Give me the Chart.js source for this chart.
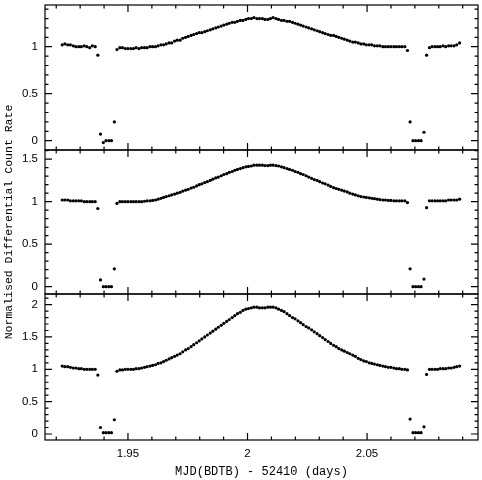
<!doctype html>
<html lang="en">
<head>
<meta charset="utf-8" />
<title>Normalised Differential Count Rate</title>
<script src="https://cdn.jsdelivr.net/npm/chart.js"></script>
<style>
  html, body { margin: 0; padding: 0; background: #fff; }
  .wrap { position: relative; width: 482px; height: 480px; }
  .wrap canvas { position: absolute; left: 0; top: 0; }
</style>
</head>
<body>
<div class="wrap">
  <canvas id="p1" width="482" height="480"></canvas>
  <canvas id="p2" width="482" height="480"></canvas>
  <canvas id="p3" width="482" height="480"></canvas>
</div>
<script>
// time axis, days after MJD 52410
const MJD = [
  1.9225, 1.9236, 1.9248, 1.9259, 1.9271, 1.9282, 1.9294, 1.9305, 1.9317, 1.9328,
  1.9340, 1.9351, 1.9363, 1.9374, 1.9385, 1.9397, 1.9408, 1.9420, 1.9431, 1.9443,
  1.9454, 1.9466, 1.9477, 1.9489, 1.9500, 1.9512, 1.9523, 1.9534, 1.9546, 1.9557,
  1.9569, 1.9580, 1.9592, 1.9603, 1.9615, 1.9626, 1.9638, 1.9649, 1.9660, 1.9672,
  1.9683, 1.9695, 1.9706, 1.9718, 1.9729, 1.9741, 1.9752, 1.9764, 1.9775, 1.9787,
  1.9798, 1.9809, 1.9821, 1.9832, 1.9844, 1.9855, 1.9867, 1.9878, 1.9890, 1.9901,
  1.9913, 1.9924, 1.9936, 1.9947, 1.9958, 1.9970, 1.9981, 1.9993, 2.0004, 2.0016,
  2.0027, 2.0039, 2.0050, 2.0062, 2.0073, 2.0085, 2.0096, 2.0107, 2.0119, 2.0130,
  2.0142, 2.0153, 2.0165, 2.0176, 2.0188, 2.0199, 2.0211, 2.0222, 2.0233, 2.0245,
  2.0256, 2.0268, 2.0279, 2.0291, 2.0302, 2.0314, 2.0325, 2.0337, 2.0348, 2.0360,
  2.0371, 2.0382, 2.0394, 2.0405, 2.0417, 2.0428, 2.0440, 2.0451, 2.0463, 2.0474,
  2.0486, 2.0497, 2.0509, 2.0520, 2.0531, 2.0543, 2.0554, 2.0566, 2.0577, 2.0589,
  2.0600, 2.0612, 2.0623, 2.0635, 2.0646, 2.0658, 2.0669, 2.0680, 2.0692, 2.0703,
  2.0715, 2.0726, 2.0738, 2.0749, 2.0761, 2.0772, 2.0784, 2.0795, 2.0806, 2.0818,
  2.0829, 2.0841, 2.0852, 2.0864, 2.0875, 2.0887
];

const RATE_TOP = [
  1.02, 1.03, 1.02, 1.02, 1.01, 1.00, 1.00, 1.00, 1.01, 1.00,
  0.99, 1.01, 1.00, 0.91, 0.07, -0.02, 0.00, 0.00, 0.00, 0.20,
  0.97, 0.99, 0.99, 0.98, 0.98, 0.98, 0.98, 0.99, 0.98, 0.99,
  0.99, 0.99, 1.00, 1.00, 1.00, 1.01, 1.02, 1.02, 1.03, 1.04,
  1.04, 1.06, 1.07, 1.07, 1.09, 1.10, 1.11, 1.12, 1.13, 1.14,
  1.15, 1.15, 1.16, 1.17, 1.18, 1.19, 1.20, 1.21, 1.22, 1.23,
  1.24, 1.25, 1.26, 1.26, 1.27, 1.28, 1.28, 1.29, 1.30, 1.30,
  1.31, 1.30, 1.30, 1.30, 1.29, 1.29, 1.30, 1.31, 1.30, 1.29,
  1.28, 1.28, 1.27, 1.27, 1.26, 1.25, 1.24, 1.23, 1.22, 1.21,
  1.20, 1.19, 1.18, 1.17, 1.16, 1.15, 1.14, 1.13, 1.12, 1.12,
  1.11, 1.10, 1.09, 1.08, 1.07, 1.06, 1.05, 1.05, 1.04, 1.03,
  1.03, 1.02, 1.02, 1.02, 1.01, 1.01, 1.01, 1.00, 1.00, 1.00,
  1.00, 1.00, 1.00, 1.00, 1.00, 1.00, 0.96, 0.20, 0.00, 0.00,
  0.00, 0.00, 0.09, 0.91, 0.99, 1.00, 1.00, 1.00, 1.00, 1.01,
  1.00, 1.01, 1.01, 1.01, 1.02, 1.04
];

const RATE_MID = [
  1.02, 1.02, 1.02, 1.01, 1.01, 1.01, 1.01, 1.01, 1.00, 1.00,
  1.00, 1.00, 1.00, 0.92, 0.08, 0.00, 0.00, 0.00, 0.00, 0.21,
  0.98, 1.00, 1.00, 1.00, 1.00, 1.00, 1.00, 1.00, 1.00, 1.00,
  1.005, 1.01, 1.01, 1.015, 1.02, 1.03, 1.04, 1.05, 1.06, 1.07,
  1.08, 1.09, 1.10, 1.11, 1.125, 1.135, 1.145, 1.16, 1.17, 1.185,
  1.20, 1.21, 1.225, 1.235, 1.25, 1.265, 1.28, 1.29, 1.305, 1.32,
  1.33, 1.345, 1.355, 1.37, 1.38, 1.39, 1.40, 1.41, 1.415, 1.42,
  1.43, 1.43, 1.43, 1.43, 1.425, 1.425, 1.43, 1.43, 1.425, 1.42,
  1.41, 1.40, 1.39, 1.38, 1.37, 1.355, 1.345, 1.33, 1.32, 1.305,
  1.29, 1.275, 1.26, 1.25, 1.235, 1.22, 1.21, 1.195, 1.18, 1.165,
  1.155, 1.145, 1.135, 1.125, 1.115, 1.10, 1.09, 1.08, 1.07, 1.06,
  1.055, 1.05, 1.045, 1.04, 1.035, 1.03, 1.025, 1.02, 1.02, 1.015,
  1.015, 1.01, 1.01, 1.01, 1.01, 1.01, 0.99, 0.21, 0.00, 0.00,
  0.00, 0.00, 0.09, 0.93, 1.01, 1.01, 1.01, 1.01, 1.01, 1.01,
  1.01, 1.02, 1.02, 1.02, 1.02, 1.03
];

const RATE_BOT = [
  1.05, 1.04, 1.04, 1.03, 1.02, 1.02, 1.01, 1.01, 1.00, 1.00,
  1.00, 1.00, 1.00, 0.91, 0.10, 0.02, 0.02, 0.02, 0.02, 0.22,
  0.97, 0.99, 0.99, 1.00, 1.00, 1.00, 1.00, 1.01, 1.01, 1.02,
  1.03, 1.04, 1.05, 1.06, 1.07, 1.09, 1.10, 1.12, 1.14, 1.16,
  1.18, 1.20, 1.22, 1.24, 1.27, 1.30, 1.32, 1.35, 1.38, 1.41,
  1.44, 1.47, 1.50, 1.53, 1.56, 1.59, 1.62, 1.65, 1.68, 1.71,
  1.74, 1.77, 1.80, 1.83, 1.86, 1.88, 1.91, 1.93, 1.94, 1.95,
  1.96, 1.96, 1.95, 1.95, 1.95, 1.96, 1.96, 1.96, 1.95, 1.93,
  1.91, 1.89, 1.86, 1.83, 1.80, 1.78, 1.75, 1.72, 1.69, 1.66,
  1.64, 1.61, 1.58, 1.55, 1.52, 1.49, 1.46, 1.43, 1.40, 1.37,
  1.35, 1.32, 1.30, 1.28, 1.26, 1.24, 1.22, 1.20, 1.17, 1.15,
  1.13, 1.12, 1.10, 1.09, 1.08, 1.07, 1.06, 1.05, 1.04, 1.03,
  1.03, 1.02, 1.01, 1.01, 1.00, 1.00, 0.99, 0.23, 0.02, 0.02,
  0.02, 0.02, 0.11, 0.92, 1.00, 1.00, 1.00, 1.00, 1.01, 1.01,
  1.01, 1.02, 1.02, 1.03, 1.04, 1.05
];

const X_TICKS = [1.95, 2, 2.05];
const Y_TICKS_TOP = [0, 0.5, 1];
const Y_TICKS_MID = [0, 0.5, 1, 1.5];
const Y_TICKS_BOT = [0, 0.5, 1, 1.5, 2];

const X_LABEL = "MJD(BDTB) - 52410 (days)";
const Y_LABEL = "Normalised Differential Count Rate";

const X_MIN = 1.9153, X_MAX = 2.0964;
const X_MINOR = 0.01, Y_MINOR = 0.1;
const MAJOR_LEN = 7, MINOR_LEN = 3.5;

const tickFont = { family: "Liberation Sans", size: 11.5 };

// frame + inward ticks on all four sides (PGPLOT style)
const frameTicks = {
  id: "frameTicks",
  afterDatasetsDraw(chart) {
    const { ctx, chartArea: a, scales: { x, y } } = chart;
    ctx.save();
    ctx.strokeStyle = "#000";
    ctx.lineWidth = 1.2;
    ctx.strokeRect(a.left, a.top, a.right - a.left, a.bottom - a.top);
    ctx.beginPath();
    for (let k = Math.ceil(x.min / X_MINOR - 1e-6); k * X_MINOR <= x.max + 1e-9; k++) {
      const px = x.getPixelForValue(k * X_MINOR);
      const len = k % 5 === 0 ? MAJOR_LEN : MINOR_LEN;
      ctx.moveTo(px, a.top); ctx.lineTo(px, a.top + len);
      ctx.moveTo(px, a.bottom); ctx.lineTo(px, a.bottom - len);
    }
    for (let k = Math.ceil(y.min / Y_MINOR - 1e-6); k * Y_MINOR <= y.max + 1e-9; k++) {
      const py = y.getPixelForValue(k * Y_MINOR);
      const len = k % 5 === 0 ? MAJOR_LEN : MINOR_LEN;
      ctx.moveTo(a.left, py); ctx.lineTo(a.left + len, py);
      ctx.moveTo(a.right, py); ctx.lineTo(a.right - len, py);
    }
    ctx.stroke();
    ctx.restore();
  }
};

function makePanel(id, values, yTicks, yMin, yMax, top, bottom, showX, showYTitle) {
  return new Chart(document.getElementById(id), {
    type: "scatter",
    data: {
      datasets: [{
        data: MJD.map((x, i) => ({ x, y: values[i] })),
        backgroundColor: "#000",
        borderWidth: 0,
        pointRadius: 1.6
      }]
    },
    options: {
      responsive: false,
      animation: false,
      events: [],
      layout: { padding: { top, bottom, left: 0, right: 4 } },
      plugins: { legend: { display: false }, tooltip: { enabled: false } },
      scales: {
        x: {
          type: "linear",
          min: X_MIN,
          max: X_MAX,
          display: showX,
          grid: { display: false, drawTicks: false },
          border: { display: false },
          ticks: { font: tickFont, color: "#000", padding: 7, maxRotation: 0, autoSkip: false, callback: (v) => String(v) },
          afterBuildTicks: (s) => { s.ticks = X_TICKS.map((v) => ({ value: v })); },
          afterFit: (s) => { if (showX) s.height = 40; s.paddingLeft = 0; s.paddingRight = 0; },
          title: {
            display: showX,
            text: X_LABEL,
            color: "#000",
            font: { family: "Liberation Mono", size: 12 },
            padding: { top: 0, bottom: 1 }
          }
        },
        y: {
          type: "linear",
          min: yMin,
          max: yMax,
          grid: { display: false, drawTicks: false },
          border: { display: false },
          ticks: { font: tickFont, color: "#000", padding: 7, callback: (v) => String(v) },
          afterBuildTicks: (s) => { s.ticks = yTicks.map((v) => ({ value: v })); },
          afterFit: (s) => { s.width = 45; s.paddingTop = 0; s.paddingBottom = 0; },
          title: {
            display: showYTitle,
            text: Y_LABEL,
            color: "#000",
            font: { family: "Liberation Mono", size: 11.5 },
            padding: { top: 2, bottom: 0 }
          }
        }
      }
    },
    plugins: [frameTicks]
  });
}

makePanel("p1", RATE_TOP, Y_TICKS_TOP, -0.099, 1.444, 5, 330, false, false);
makePanel("p2", RATE_MID, Y_TICKS_MID, -0.086, 1.608, 150, 186, false, true);
makePanel("p3", RATE_BOT, Y_TICKS_BOT, -0.093, 2.164, 294, 0, true, false);
</script>
</body>
</html>
